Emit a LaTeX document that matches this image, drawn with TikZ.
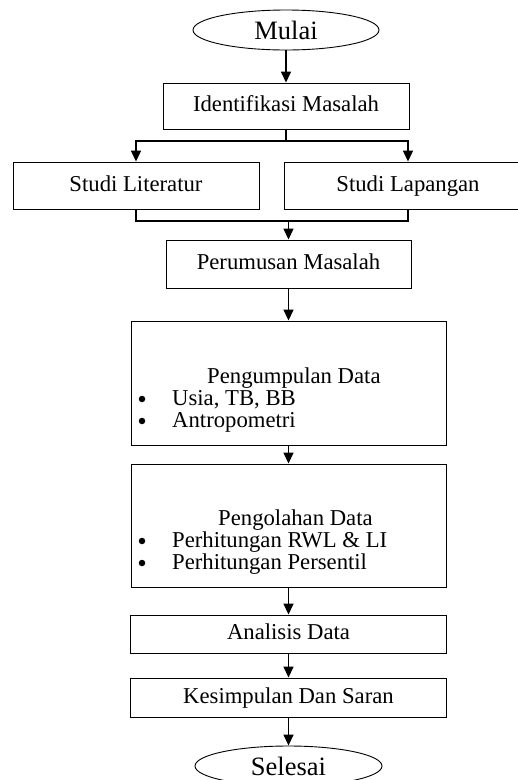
\documentclass[tikz,border=0pt]{standalone}
\usepackage{fontspec}
\setmainfont{Liberation Serif}
\usetikzlibrary{arrows.meta,shapes.geometric}
\begin{document}
\begin{tikzpicture}[x=1pt,y=-1pt,
  box/.style={draw, line width=0.9pt, inner sep=0pt, text height=16pt, text depth=5pt},
  oval/.style={draw, ellipse, line width=0.9pt, inner sep=0pt},
  txt/.style={font=\fontsize{22.7}{26}\selectfont},
  big/.style={font=\fontsize{26.5}{30}\selectfont},
  lbl/.style={txt, anchor=base west, inner sep=0pt},
  bul/.style={circle, fill, inner sep=0pt, minimum size=6.5pt},
  arr/.style={line width=1.5pt, -{Triangle[width=10pt,length=11pt]}},
  ln/.style={line width=1.5pt}]
\useasboundingbox (0,0) rectangle (518,780);
\node[oval, minimum width=186, minimum height=40, big] (mulai) at (286,30) {Mulai};
\node[box, minimum width=246, minimum height=46, txt] (ident) at (286,106) {Identifikasi Masalah};
\node[box, minimum width=246, minimum height=47, txt] (lit) at (136,185.5) {Studi Literatur};
\node[box, minimum width=248, minimum height=47, txt] (lap) at (408,185.5) {Studi Lapangan};
\node[box, minimum width=245, minimum height=48, txt] (rum) at (288.5,264) {Perumusan Masalah};
\node[box, minimum width=315, minimum height=124] (kumpul) at (288.5,383) {};
\node[box, minimum width=315, minimum height=123] (olah) at (288.5,525.5) {};
\node[box, minimum width=316, minimum height=38, txt] (anal) at (288.5,634) {Analisis Data};
\node[box, minimum width=316, minimum height=39, txt] (kes) at (288.5,697.5) {Kesimpulan Dan Saran};
\node[oval, minimum width=187, minimum height=40, big] (selesai) at (288.5,766) {Selesai};
% texts in the data boxes
\node[lbl] (k0) at (207,383) {Pengumpulan Data};
\node[bul] (kb1) at (142,399) {};
\node[lbl] (k1) at (172,405) {Usia, TB, BB};
\node[bul] (kb2) at (142,421) {};
\node[lbl] (k2) at (172,427) {Antropometri};
\node[lbl] (o0) at (218,525) {Pengolahan Data};
\node[bul] (ob1) at (142,541) {};
\node[lbl] (o1) at (172,547) {Perhitungan RWL \& LI};
\node[bul] (ob2) at (142,563) {};
\node[lbl] (o2) at (172,569) {Perhitungan Persentil};
% connectors
\coordinate (sp) at (286,141);
\coordinate (mg) at (288.5,221);
\draw[arr] (mulai.south) -- (ident.north);
\draw[ln] (ident.south) -- (sp);
\draw[arr] (sp) -| (lit.north);
\draw[arr] (sp) -| (lap.north);
\draw[ln] (lit.south) |- (mg);
\draw[ln] (lap.south) |- (mg);
\draw[arr] (mg) -- (rum.north);
\draw[arr] (rum.south) -- (kumpul.north);
\draw[arr] (kumpul.south) -- (olah.north);
\draw[arr] (olah.south) -- (anal.north);
\draw[arr] (anal.south) -- (kes.north);
\draw[arr] (kes.south) -- (selesai.north);
\end{tikzpicture}
\end{document}
